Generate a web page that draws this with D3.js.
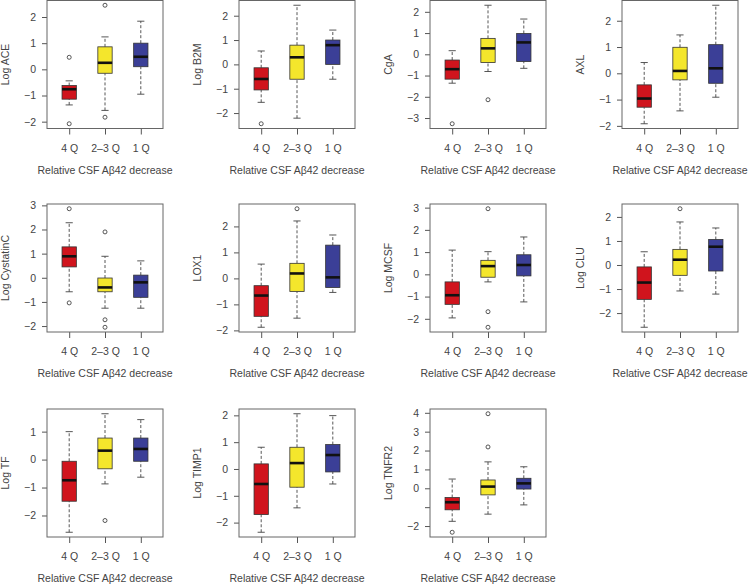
<!DOCTYPE html>
<html>
<head>
<meta charset="utf-8">
<script src="https://cdn.jsdelivr.net/npm/d3@7"></script>
<style>
  body { margin: 0; background: #fff; }
  svg { display: block; font-family: "Liberation Sans", Arial, sans-serif; }
  .axis text { font-size: 10.5px; fill: #444; }
  .axis line { stroke: #555; }
  .axis path { display: none; }
  .label { font-size: 10.5px; fill: #444; }
</style>
</head>
<body>
<svg id="chart" width="748" height="585"></svg>
<script>
// groups on the x axis
const groups = ["4 Q", "2–3 Q", "1 Q"]
const xTitle = "Relative CSF Aβ42 decrease"

// box stats per group: [lower whisker, Q1, median, Q3, upper whisker]
const aceBox = [[-1.36, -1.14, -0.76, -0.62, -0.44], [-1.57, -0.15, 0.25, 0.86, 1.24], [-0.95, 0.10, 0.48, 1.00, 1.84]]
const aceOut = [[0.46, -2.08], [2.45, -1.83], []]
const b2mBox = [[-1.56, -1.05, -0.60, -0.14, 0.55], [-2.21, -0.61, 0.29, 0.79, 2.43], [-0.61, 0.00, 0.79, 1.00, 1.41]]
const b2mOut = [[-2.44], [], []]
const cgaBox = [[-1.36, -1.17, -0.70, -0.27, 0.17], [-0.81, -0.39, 0.28, 0.75, 2.31], [-0.66, -0.34, 0.56, 0.98, 1.66]]
const cgaOut = [[-3.27], [-2.14], []]
const axlBox = [[-1.92, -1.29, -0.96, -0.44, 0.41], [-1.43, -0.25, 0.09, 0.99, 1.46], [-0.91, -0.38, 0.19, 1.09, 2.59]]
const axlOut = [[], [], []]
const cystBox = [[-0.58, 0.45, 0.89, 1.28, 2.28], [-1.26, -0.58, -0.40, -0.01, 0.89], [-1.26, -0.81, -0.19, 0.11, 0.70]]
const cystOut = [[2.86, -1.04], [1.90, -1.74, -2.05], []]
const loxBox = [[-1.88, -1.46, -0.66, -0.28, 0.55], [-1.53, -0.50, 0.19, 0.58, 2.21], [-0.54, -0.35, 0.04, 1.28, 1.67]]
const loxOut = [[], [2.68], []]
const mcsfBox = [[-1.96, -1.35, -0.94, -0.34, 1.09], [-0.34, -0.13, 0.37, 0.63, 1.02], [-1.24, -0.07, 0.42, 0.88, 1.68]]
const mcsfOut = [[], [2.95, -1.68, -2.38], []]
const cluBox = [[-2.59, -1.43, -0.73, -0.08, 0.55], [-1.08, -0.43, 0.22, 0.65, 1.79], [-1.21, -0.25, 0.76, 1.06, 1.54]]
const cluOut = [[], [2.34], []]
const tfBox = [[-2.60, -1.49, -0.74, -0.06, 1.00], [-0.87, -0.33, 0.32, 0.77, 1.64], [-0.63, -0.06, 0.38, 0.77, 1.43]]
const tfOut = [[], [-2.18], []]
const timpBox = [[-2.36, -1.70, -0.56, 0.19, 0.81], [-1.45, -0.68, 0.22, 0.81, 2.06], [-0.56, -0.11, 0.52, 0.91, 1.99]]
const timpOut = [[], [], []]
const tnfBox = [[-1.75, -1.14, -0.74, -0.49, 0.49], [-1.37, -0.35, 0.09, 0.44, 1.40], [-0.88, -0.04, 0.26, 0.53, 1.14]]
const tnfOut = [[-2.33], [3.95, 2.19], []]

// y axis labels and tick values
const yTitles = ["Log ACE", "Log B2M", "CgA", "AXL", "Log CystatinC", "LOX1", "Log MCSF", "Log CLU", "Log TF", "Log TIMP1", "Log TNFR2"]
const yTicks = [
  [-2, -1, 0, 1, 2], [-2, -1, 0, 1, 2], [-3, -2, -1, 0, 1, 2], [-2, -1, 0, 1, 2],
  [-2, -1, 0, 1, 2, 3], [-2, -1, 0, 1, 2], [-2, -1, 0, 1, 2, 3], [-2, -1, 0, 1, 2],
  [-2, -1, 0, 1], [-2, -1, 0, 1, 2], [-2, -1, 0, 1, 2, 3, 4]
]
// labels R dropped because they collide
const hiddenLabels = [[], [], [], [], [], [], [], [], [], [], [-1]]

const boxes = [aceBox, b2mBox, cgaBox, axlBox, cystBox, loxBox, mcsfBox, cluBox, tfBox, timpBox, tnfBox]
const outliers = [aceOut, b2mOut, cgaOut, axlOut, cystOut, loxOut, mcsfOut, cluOut, tfOut, timpOut, tnfOut]

const colors = ["#d0141d", "#f4e62c", "#3b3f97"]

// layout
const colX = [47, 239, 430, 622]
const rowY = [0.5, 204, 409]
const W = 116, H = 128

let svg = d3.select("#chart")

boxes.forEach(function (box, i) {
  let g = svg.append("g")
    .attr("transform", `translate(${colX[i % 4]}, ${rowY[Math.floor(i / 4)]})`)

  // R style range: data extent plus 4%
  let all = box.flat().concat(outliers[i].flat())
  let lo = d3.min(all), hi = d3.max(all), pad = (hi - lo) * 0.04
  let y = d3.scaleLinear().domain([lo - pad, hi + pad]).range([H, 0])
  let x = d3.scaleLinear().domain([0.38, 3.62]).range([0, W])
  let bw = x(1.4) - x(1)

  // axes
  g.append("g")
    .attr("class", "axis")
    .call(d3.axisLeft(y).tickValues(yTicks[i]).tickSize(5).tickPadding(6)
      .tickFormat(d => hiddenLabels[i].includes(d) ? "" : (d < 0 ? "\u2212" + (-d) : d)))

  g.append("g")
    .attr("class", "axis")
    .attr("transform", `translate(0, ${H})`)
    .call(d3.axisBottom(x).tickValues([1, 2, 3]).tickSize(6).tickPadding(10)
      .tickFormat((d, k) => groups[k]))

  // whiskers
  box.forEach(function (s, k) {
    let cx = x(k + 1)
    g.append("line")
      .attr("x1", cx).attr("x2", cx).attr("y1", y(s[0])).attr("y2", y(s[1]))
      .attr("stroke", "#444").attr("stroke-width", 0.9).attr("stroke-dasharray", "3,2")
    g.append("line")
      .attr("x1", cx).attr("x2", cx).attr("y1", y(s[3])).attr("y2", y(s[4]))
      .attr("stroke", "#444").attr("stroke-width", 0.9).attr("stroke-dasharray", "3,2")
    ;[s[0], s[4]].forEach(function (v) {
      g.append("line")
        .attr("x1", cx - bw / 4).attr("x2", cx + bw / 4).attr("y1", y(v)).attr("y2", y(v))
        .attr("stroke", "#444").attr("stroke-width", 0.9)
    })
  })

  // boxes
  g.selectAll("rect.box")
    .data(box)
    .enter()
    .append("rect")
    .attr("class", "box")
    .attr("x", (d, k) => x(k + 1) - bw / 2)
    .attr("y", d => y(d[3]))
    .attr("width", bw)
    .attr("height", d => y(d[1]) - y(d[3]))
    .attr("fill", (d, k) => colors[k])
    .attr("stroke", "#333")
    .attr("stroke-width", 0.8)

  // medians
  g.selectAll("line.med")
    .data(box)
    .enter()
    .append("line")
    .attr("x1", (d, k) => x(k + 1) - bw / 2)
    .attr("x2", (d, k) => x(k + 1) + bw / 2)
    .attr("y1", d => y(d[2]))
    .attr("y2", d => y(d[2]))
    .attr("stroke", "#111")
    .attr("stroke-width", 2.6)

  // outliers
  outliers[i].forEach(function (pts, k) {
    g.selectAll(null)
      .data(pts)
      .enter()
      .append("circle")
      .attr("cx", x(k + 1))
      .attr("cy", d => y(d))
      .attr("r", 2)
      .attr("fill", "none")
      .attr("stroke", "#444")
      .attr("stroke-width", 0.9)
  })

  // frame
  g.append("rect")
    .attr("width", W).attr("height", H)
    .attr("fill", "none").attr("stroke", "#666").attr("stroke-width", 1)

  // titles
  g.append("text")
    .attr("class", "label")
    .attr("x", W / 2).attr("y", H + 45)
    .attr("text-anchor", "middle")
    .text(xTitle)

  g.append("text")
    .attr("class", "label")
    .attr("transform", `translate(-38, ${H / 2}) rotate(-90)`)
    .attr("text-anchor", "middle")
    .text(yTitles[i])
})
</script>
</body>
</html>
